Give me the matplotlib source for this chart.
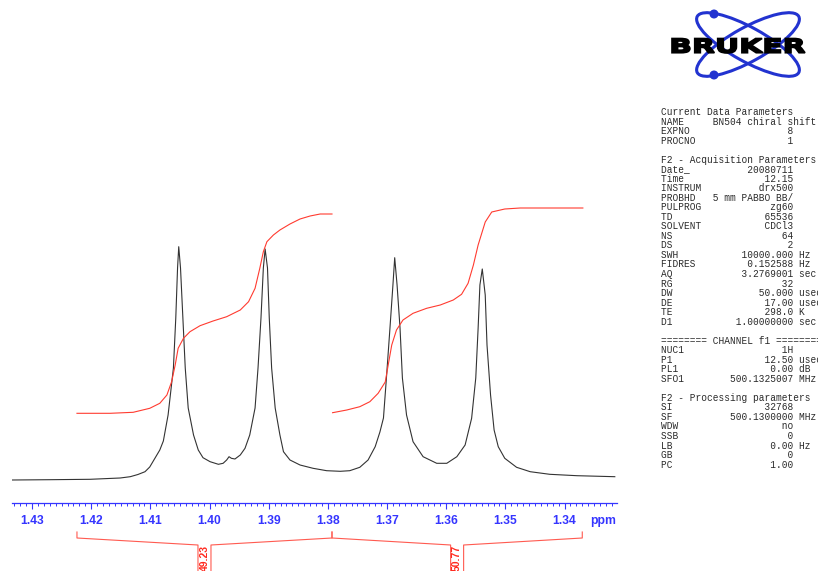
import numpy as np
import matplotlib
matplotlib.use("Agg")
import matplotlib.pyplot as plt
from matplotlib.patches import Ellipse, Circle, PathPatch
from matplotlib.textpath import TextPath
from matplotlib.font_manager import FontProperties
from matplotlib.ticker import MultipleLocator, FormatStrFormatter
import matplotlib.transforms as mtransforms

# ── data ──────────────────────────────────────────────────────────────────────
# 1H spectrum trace, ppm vs intensity (arbitrary units, baseline = 0)
spec_ppm = [1.4334, 1.4270, 1.4202, 1.4151, 1.4134, 1.4121, 1.4109, 1.4101,
            1.4092, 1.4084, 1.4078,
            1.4070, 1.4061, 1.4057, 1.4054, 1.4052, 1.4049, 1.4045, 1.4041,
            1.4036, 1.4027, 1.4019, 1.4011, 1.3999, 1.3985, 1.3977, 1.3971,
            1.3967, 1.3963, 1.3957, 1.3948, 1.3940, 1.3932, 1.3923, 1.3918,
            1.3913, 1.3909, 1.3906, 1.3902, 1.3899, 1.3895, 1.3889, 1.3881,
            1.3875, 1.3864, 1.3847, 1.3825, 1.3802, 1.3779, 1.3763, 1.3746,
            1.3732, 1.3720, 1.3712, 1.3706, 1.3701, 1.3695, 1.3690, 1.3687,
            1.3683, 1.3678, 1.3674, 1.3667, 1.3656, 1.3639, 1.3616, 1.3599,
            1.3582, 1.3568, 1.3557, 1.3550, 1.3546, 1.3543, 1.3539, 1.3534,
            1.3531, 1.3525, 1.3519, 1.3512, 1.3501, 1.3481, 1.3458, 1.3425,
            1.3379, 1.3315]
spec_int = [0.0, 0.3, 0.7, 2.0, 3.3, 5.5, 8.3, 13,
            22, 30, 39,
            65, 112, 162, 212, 233.3, 212, 162, 112,
            72, 45, 30, 22.3, 18.3, 15.7, 16.7, 20,
            23.3, 21.7, 21, 25, 31.7, 45, 72, 112,
            162, 212, 231, 212, 162, 112, 72, 45,
            28.3, 20, 15, 11.7, 9.3, 8.7, 9.3, 12.7,
            20, 33.3, 48, 62, 102, 152, 195, 222.3,
            195, 152, 102, 65, 38.3, 23.3, 16.7, 16.7,
            23.3, 35, 61.7, 102, 152, 195, 211, 185,
            135, 85, 50, 33.3, 21.7, 12.7, 8.3, 5.7,
            4.3, 3.3]

# integral traces (same vertical units as the spectrum)
int1_ppm = [1.4224, 1.4168, 1.4129, 1.4101, 1.4084, 1.4072, 1.4064, 1.4058,
            1.4053, 1.4044, 1.4033, 1.4016, 1.3994, 1.3971, 1.3948, 1.3934,
            1.3923, 1.3915, 1.3909, 1.3903, 1.3892, 1.3881, 1.3864, 1.3847,
            1.3830, 1.3813, 1.3793]
int1_val = [66.7, 66.7, 67.7, 71.7, 76.7, 85, 98.3, 115,
            131.7, 141.7, 148.3, 154.3, 159, 163.3, 170, 178.3,
            191.7, 211.7, 228.3, 238.3, 245, 250, 256, 261,
            264, 266, 266]
int2_ppm = [1.3792, 1.3768, 1.3746, 1.3729, 1.3715, 1.3703, 1.3698, 1.3692,
            1.3684, 1.3673, 1.3656, 1.3633, 1.3610, 1.3588, 1.3574, 1.3563,
            1.3554, 1.3546, 1.3534, 1.3523, 1.3501, 1.3475, 1.3442, 1.3369]
int2_val = [67.3, 70, 73.3, 78.3, 86.7, 98, 115, 135,
            150, 160, 166.7, 171.7, 175, 180, 185.7, 196.7,
            215, 235, 258, 268, 271, 272, 272, 272]

# integration regions (ppm) and their values
region_start = [1.4224, 1.3793]
region_end = [1.3793, 1.3370]
region_value = ["49.23", "50.77"]

tick_ppm = [1.43, 1.42, 1.41, 1.40, 1.39, 1.38, 1.37, 1.36, 1.35, 1.34]

# parameter block: (name, value, unit); None = blank line, str = heading
param_rows = [
    "Current Data Parameters",
    ("NAME", "BN504 chiral shift", ""),
    ("EXPNO", "8", ""),
    ("PROCNO", "1", ""),
    None,
    "F2 - Acquisition Parameters",
    ("Date_", "20080711", ""),
    ("Time", "12.15", ""),
    ("INSTRUM", "drx500", ""),
    ("PROBHD", "5 mm PABBO BB/", ""),
    ("PULPROG", "zg60", ""),
    ("TD", "65536", ""),
    ("SOLVENT", "CDCl3", ""),
    ("NS", "64", ""),
    ("DS", "2", ""),
    ("SWH", "10000.000", "Hz"),
    ("FIDRES", "0.152588", "Hz"),
    ("AQ", "3.2769001", "sec"),
    ("RG", "32", ""),
    ("DW", "50.000", "usec"),
    ("DE", "17.00", "usec"),
    ("TE", "298.0", "K"),
    ("D1", "1.00000000", "sec"),
    None,
    "======== CHANNEL f1 ========",
    ("NUC1", "1H", ""),
    ("P1", "12.50", "usec"),
    ("PL1", "0.00", "dB"),
    ("SFO1", "500.1325007", "MHz"),
    None,
    "F2 - Processing parameters",
    ("SI", "32768", ""),
    ("SF", "500.1300000", "MHz"),
    ("WDW", "no", ""),
    ("SSB", "0", ""),
    ("LB", "0.00", "Hz"),
    ("GB", "0", ""),
    ("PC", "1.00", ""),
]

# ── style ─────────────────────────────────────────────────────────────────────
W, H = 818, 571
BLUE = "#3535ff"
RED = "#ff3b30"
BRACKET_RED = "#ff5a50"
SPEC = "#333333"

fig = plt.figure(figsize=(W / 100, H / 100), dpi=100)

# ── spectrum axes ────────────────────────────────────────────────────────────
ax = fig.add_axes([12 / W, 1 - 503 / H, 605 / W, 303 / H])
ax.plot(spec_ppm, spec_int, color=SPEC, linewidth=0.8)
ax.plot(int1_ppm, int1_val, color=RED, linewidth=0.8)
ax.plot(int2_ppm, int2_val, color=RED, linewidth=0.8)
ax.set_xlim(1.43338, 1.33113)
ax.set_ylim(-23, 280)

for side in ("top", "right", "left"):
    ax.spines[side].set_visible(False)
ax.spines["bottom"].set_color(BLUE)
ax.spines["bottom"].set_linewidth(0.9)
ax.set_yticks([])
ax.set_xticks(tick_ppm)
ax.xaxis.set_major_formatter(FormatStrFormatter("%.2f"))
ax.xaxis.set_minor_locator(MultipleLocator(0.001))
ax.tick_params(axis="x", which="major", direction="out", length=4,
               width=0.8, color=BLUE, labelcolor=BLUE, pad=4.5,
               labelsize=8.7)
ax.tick_params(axis="x", which="minor", direction="out", length=2,
               width=0.7, color=BLUE)
for lab in ax.get_xticklabels():
    lab.set_fontfamily("Liberation Sans")
    lab.set_fontweight("bold")

fig.text(603 / W, 1 - 521 / H, "ppm", color=BLUE, fontsize=8.7,
         fontweight="bold", family="Liberation Sans", ha="center", va="center")

# ── integral brackets below the axis ─────────────────────────────────────────
btrans = mtransforms.blended_transform_factory(ax.transData, fig.transFigure)
hw = 6.5 / 5917  # half width of label box in ppm


def fy(py):
    return 1 - py / H


for s, e, val in zip(region_start, region_end, region_value):
    m = (s + e) / 2
    ax.plot([s, s, m + hw, m + hw], [fy(532), fy(538), fy(545), fy(580)],
            color=BRACKET_RED, linewidth=0.8, transform=btrans, clip_on=False)
    ax.plot([m - hw, m - hw, e, e], [fy(580), fy(545), fy(538), fy(532)],
            color=BRACKET_RED, linewidth=0.8, transform=btrans, clip_on=False)
    ax.text(m, fy(558), val, rotation=90, color="#ff2a1f", fontsize=7.5,
            fontweight="bold", family="Liberation Sans", ha="center",
            va="center", transform=btrans, clip_on=False)

# ── parameter block ──────────────────────────────────────────────────────────
for k, row in enumerate(param_rows):
    if row is None:
        continue
    if isinstance(row, str):
        line = row
    else:
        name, value, unit = row
        line = f"{name:<9}{value:>14}" + (f" {unit}" if unit else "")
    fig.text(661 / W, 1 - (112 + k * 9.53) / H, line, family="Liberation Mono",
             fontsize=6.85, color="#2a2a2a", ha="left", va="center")

# ── logo ─────────────────────────────────────────────────────────────────────
lax = fig.add_axes([660 / W, 1 - 100 / H, 158 / W, 100 / H])
lax.set_xlim(660, 818)
lax.set_ylim(100, 0)
lax.axis("off")
LOGO_BLUE = "#2233d0"
for ang in (29, -29):
    lax.add_patch(Ellipse((748, 44.5), 116, 34, angle=ang, fill=False,
                          edgecolor=LOGO_BLUE, linewidth=2.2))
lax.add_patch(Circle((714, 14), 3.8, color=LOGO_BLUE))
lax.add_patch(Circle((714, 75), 3.8, color=LOGO_BLUE))

tp = TextPath((0, 0), "BRUKER", size=1,
              prop=FontProperties(family="DejaVu Sans", weight="bold"))
ext = tp.get_extents()
sx = (805 - 672) / ext.width
sy = (53.0 - 38.5) / ext.height
tr = (mtransforms.Affine2D().translate(-ext.x0, -ext.y0).scale(sx, -sy)
      .translate(672, 53.0) + lax.transData)
lax.add_patch(PathPatch(tp, facecolor="black", edgecolor="black",
                        linewidth=1.2, transform=tr))

fig.savefig("out.png", dpi=100)
